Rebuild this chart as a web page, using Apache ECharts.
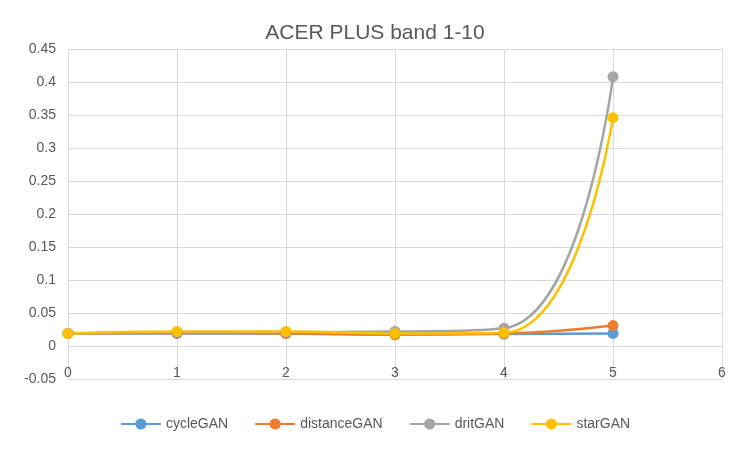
<!DOCTYPE html>
<html>
<head>
<meta charset="utf-8">
<script src="https://cdn.jsdelivr.net/npm/echarts@6/dist/echarts.min.js"></script>
</head>
<body style="margin:0">
<div id="main" style="width:750px;height:450px;"></div>
<script>
var xs = [0, 1, 2, 3, 4, 5];
var cycleGAN = [0.019, 0.019, 0.019, 0.019, 0.018, 0.019];
var distanceGAN = [0.019, 0.020, 0.019, 0.017, 0.019, 0.031];
var dritGAN = [0.019, 0.021, 0.021, 0.022, 0.027, 0.408];
var starGAN = [0.019, 0.022, 0.022, 0.019, 0.020, 0.346];
var names = ['cycleGAN', 'distanceGAN', 'dritGAN', 'starGAN'];
var colors = ['#5B9BD5', '#ED7D31', '#A5A5A5', '#FFC000'];

function pairs(v) { return v.map(function (y, i) { return [xs[i], y]; }); }

var chart = echarts.init(document.getElementById('main'));
chart.setOption({
    animation: false,
    title: {
        text: 'ACER PLUS band 1-10', left: 'center', top: 18,
        textStyle: { fontFamily: 'Liberation Sans', fontWeight: 'normal', fontSize: 21, color: '#595959' }
    },
    legend: {
        bottom: 14, itemGap: 26, itemWidth: 40,
        textStyle: { fontSize: 14, color: '#595959' },
        data: names
    },
    grid: { left: 68, right: 28, top: 49, bottom: 71 },
    xAxis: {
        type: 'value', min: 0, max: 6, interval: 1,
        axisLine: { show: false }, axisTick: { show: false },
        splitLine: { lineStyle: { color: '#d9d9d9' } },
        axisLabel: { color: '#595959', fontSize: 14, margin: -13, verticalAlign: 'top' }
    },
    yAxis: {
        type: 'value', min: -0.05, max: 0.45, interval: 0.05,
        axisLine: { show: false }, axisTick: { show: false },
        splitLine: { lineStyle: { color: '#d9d9d9' } },
        axisLabel: { color: '#595959', fontSize: 14, margin: 12,
            formatter: function (v) { return String(Math.round(v * 100) / 100); } }
    },
    series: [cycleGAN, distanceGAN, dritGAN, starGAN].map(function (d, i) {
        return {
            name: names[i], type: 'line', data: pairs(d), smooth: 0.5,
            symbol: 'circle', symbolSize: 11,
            itemStyle: { color: colors[i] },
            lineStyle: { width: 2.5, color: colors[i] }
        };
    })
});
</script>
</body>
</html>
